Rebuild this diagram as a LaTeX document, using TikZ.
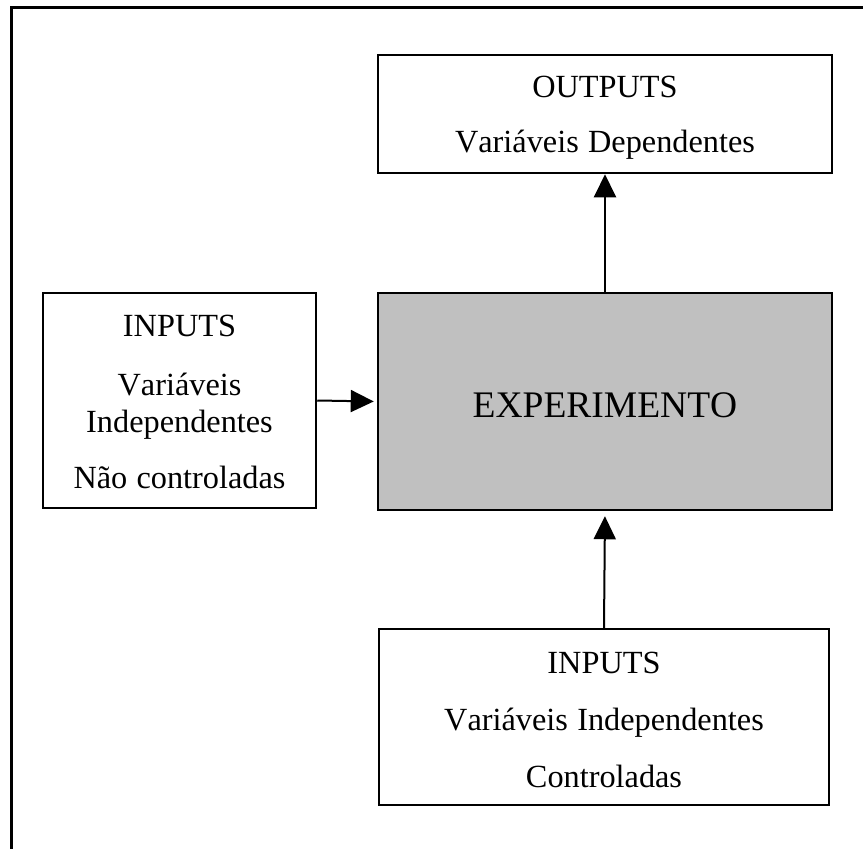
\documentclass[tikz,border=0pt]{standalone}
\usepackage{fontspec}
\setmainfont[Kerning=Off,WordSpace=1.15]{Liberation Serif}
\usetikzlibrary{arrows.meta}
\definecolor{boxgray}{HTML}{C0C0C0}
\begin{document}
\begin{tikzpicture}[x=1pt,y=-1pt,
  box/.style={draw=black,line width=2.5pt,rectangle,inner sep=0pt},
  txt/.style={anchor=base,inner sep=0pt,font=\fontsize{32.3}{36}\selectfont},
  bigtxt/.style={anchor=base,inner sep=0pt,font=\fontsize{37.5}{42}\selectfont},
  flow/.style={line width=2pt,-{Triangle[width=22pt,length=23pt]}}]
  \useasboundingbox (0,0) rectangle (863,849);

  % open frame: top and left edges only
  \coordinate (ftl) at (11,7);
  \coordinate (ftr) at (863,7);
  \coordinate (fbl) at (11,849);
  \draw[line width=3pt] (ftr) -- (ftl) -- (fbl);

  % boxes
  \node[box,minimum width=454pt,minimum height=118pt] (out) at (605,114) {};
  \node[box,fill=boxgray,minimum width=454pt,minimum height=217pt] (exp) at (605,401.5) {};
  \node[box,minimum width=273pt,minimum height=215pt] (inl) at (179.5,400.5) {};
  \node[box,minimum width=450pt,minimum height=176pt] (inb) at (604,717) {};

  % labels
  \node[txt] (outa) at (605,97) {OUTPUTS};
  \node[txt] (outb) at (605,152) {Variáveis Dependentes};
  \node[bigtxt] (expa) at (605,417) {EXPERIMENTO};
  \node[txt] (inla) at (179.5,336) {INPUTS};
  \node[txt] (inlb) at (179.5,395) {Variáveis};
  \node[txt] (inlc) at (179.5,432) {Independentes};
  \node[txt] (inld) at (179.5,488) {Não controladas};
  \node[txt] (inba) at (604,673) {INPUTS};
  \node[txt] (inbb) at (604,730) {Variáveis Independentes};
  \node[txt] (inbc) at (604,787) {Controladas};

  % connectors
  \draw[flow] (exp.north) -- (out.south);
  \draw[flow,shorten >=3pt] (inl.east) -- (exp.west);
  \draw[flow,shorten >=5pt] (inb.north) -- (exp.south);
\end{tikzpicture}
\end{document}
